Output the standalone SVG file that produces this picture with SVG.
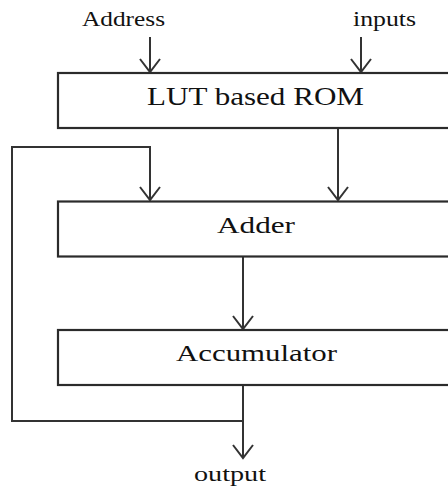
<svg xmlns="http://www.w3.org/2000/svg" width="448" height="488" viewBox="0 0 448 488">
<style>
.box{fill:#fff;stroke:#2b2b2b;stroke-width:2.2}
.ln{fill:none;stroke:#333;stroke-width:2}
.t{font-family:"Liberation Serif","Times New Roman",serif;fill:#111}
</style>
<defs>
<marker id="ah" markerUnits="userSpaceOnUse" markerWidth="16" markerHeight="24" refX="14" refY="11" orient="auto" viewBox="0 0 16 22">
<path d="M1,1 L14,11 L1,21" fill="none" stroke="#333" stroke-width="2"/>
</marker>
</defs>
<rect width="448" height="488" fill="#fff"/>
<g id="connectors">
<line class="ln" x1="150" y1="37" x2="150" y2="72" marker-end="url(#ah)"/>
<line class="ln" x1="361" y1="37" x2="361" y2="72" marker-end="url(#ah)"/>
<line class="ln" x1="338" y1="128" x2="338" y2="200" marker-end="url(#ah)"/>
<polyline class="ln" points="243,421 12,421 12,147 150,147 150,200" marker-end="url(#ah)"/>
<line class="ln" x1="243" y1="257" x2="243" y2="329" marker-end="url(#ah)"/>
<line class="ln" x1="243" y1="385" x2="243" y2="458" marker-end="url(#ah)"/>
</g>
<g id="rom">
<rect class="box" x="58" y="73" width="400" height="55"/>
<text class="t" x="255.5" y="105" font-size="25" text-anchor="middle" textLength="217" lengthAdjust="spacingAndGlyphs">LUT based ROM</text>
</g>
<g id="adder">
<rect class="box" x="58" y="201.5" width="400" height="55"/>
<text class="t" x="256" y="232.5" font-size="24" text-anchor="middle" textLength="78" lengthAdjust="spacingAndGlyphs">Adder</text>
</g>
<g id="accumulator">
<rect class="box" x="58" y="330" width="400" height="55"/>
<text class="t" x="256.5" y="361" font-size="24" text-anchor="middle" textLength="161" lengthAdjust="spacingAndGlyphs">Accumulator</text>
</g>
<g id="address">
<text class="t" x="123.5" y="26" font-size="20" text-anchor="middle" textLength="83" lengthAdjust="spacingAndGlyphs">Address</text>
</g>
<g id="inputs">
<text class="t" x="384.5" y="26" font-size="20" text-anchor="middle" textLength="63" lengthAdjust="spacingAndGlyphs">inputs</text>
</g>
<g id="output">
<text class="t" x="230" y="481" font-size="20" text-anchor="middle" textLength="72" lengthAdjust="spacingAndGlyphs">output</text>
</g>
</svg>
